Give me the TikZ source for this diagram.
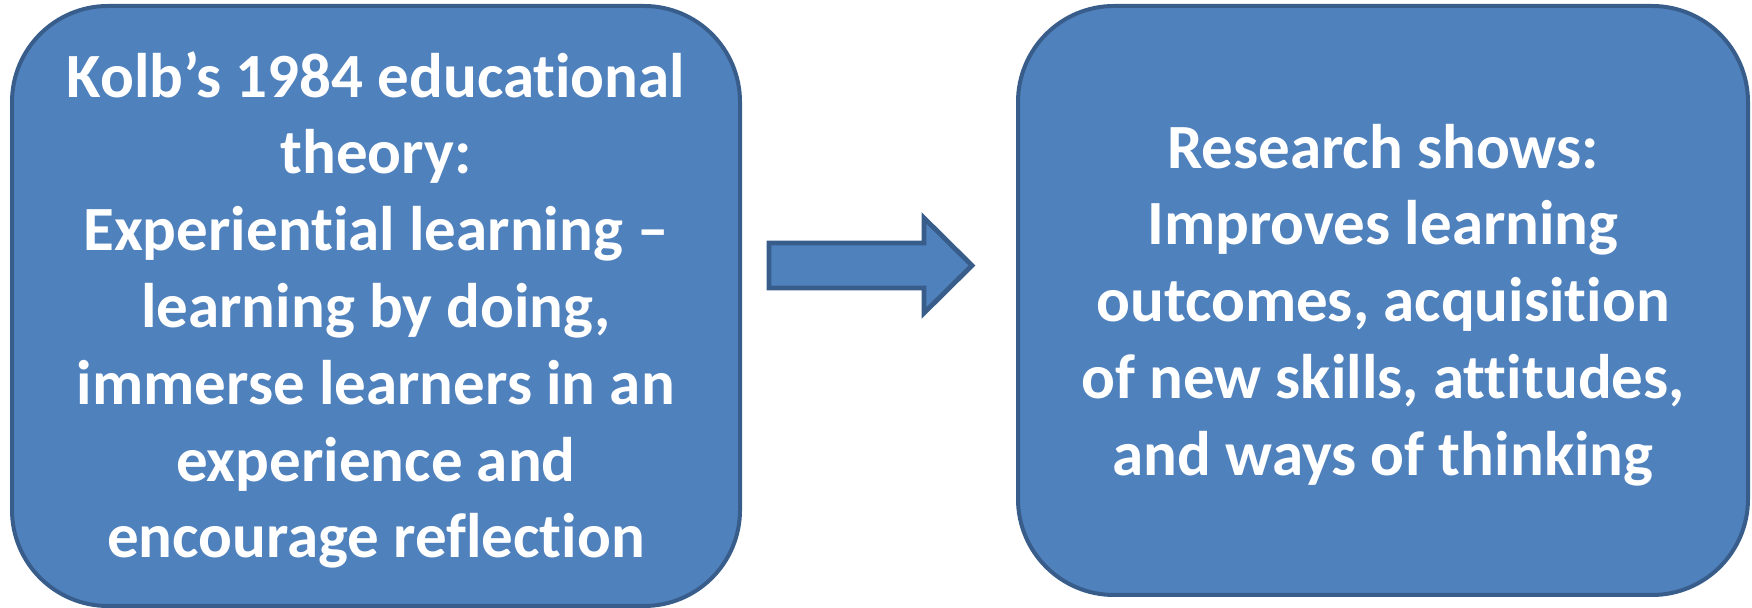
\documentclass[tikz,border=0pt]{standalone}
\usepackage{fontspec}
\newfontfamily\boxfont[Ligatures=NoCommon]{Carlito}
\definecolor{boxfill}{HTML}{4F81BD}
\definecolor{boxline}{HTML}{385D8A}
\tikzset{
  panel/.style={draw=boxline, fill=boxfill, line width=2pt, rounded corners=48pt},
  paneltext/.style={text=white, align=center, font=\boxfont\bfseries\fontsize{31.5pt}{38.4pt}\selectfont, inner sep=0pt},
  blockarrow/.style={draw=boxline, fill=boxfill, line width=2.4pt, line join=miter}
}
\begin{document}
\begin{tikzpicture}[x=0.5pt, y=-0.5pt]
\useasboundingbox (0,0) rectangle (1752,608);
\draw[panel] (12,6) rectangle (740,606);
\draw[panel] (1018,6) rectangle (1748,595);
\node[paneltext] (left) at (376,310) {Kolb’s 1984 educational\\theory:\\Experiential learning –\\learning by doing,\\immerse learners in an\\experience and\\encourage reflection};
\node[paneltext] (right) at (1383,305) {Research shows:\\Improves learning\\outcomes, acquisition\\of new skills, attitudes,\\and ways of thinking};
\draw[blockarrow] (769,243) -- (924,243) -- (924,218) -- (972,265.5) -- (924,313) -- (924,288) -- (769,288) -- cycle;
\end{tikzpicture}
\end{document}
